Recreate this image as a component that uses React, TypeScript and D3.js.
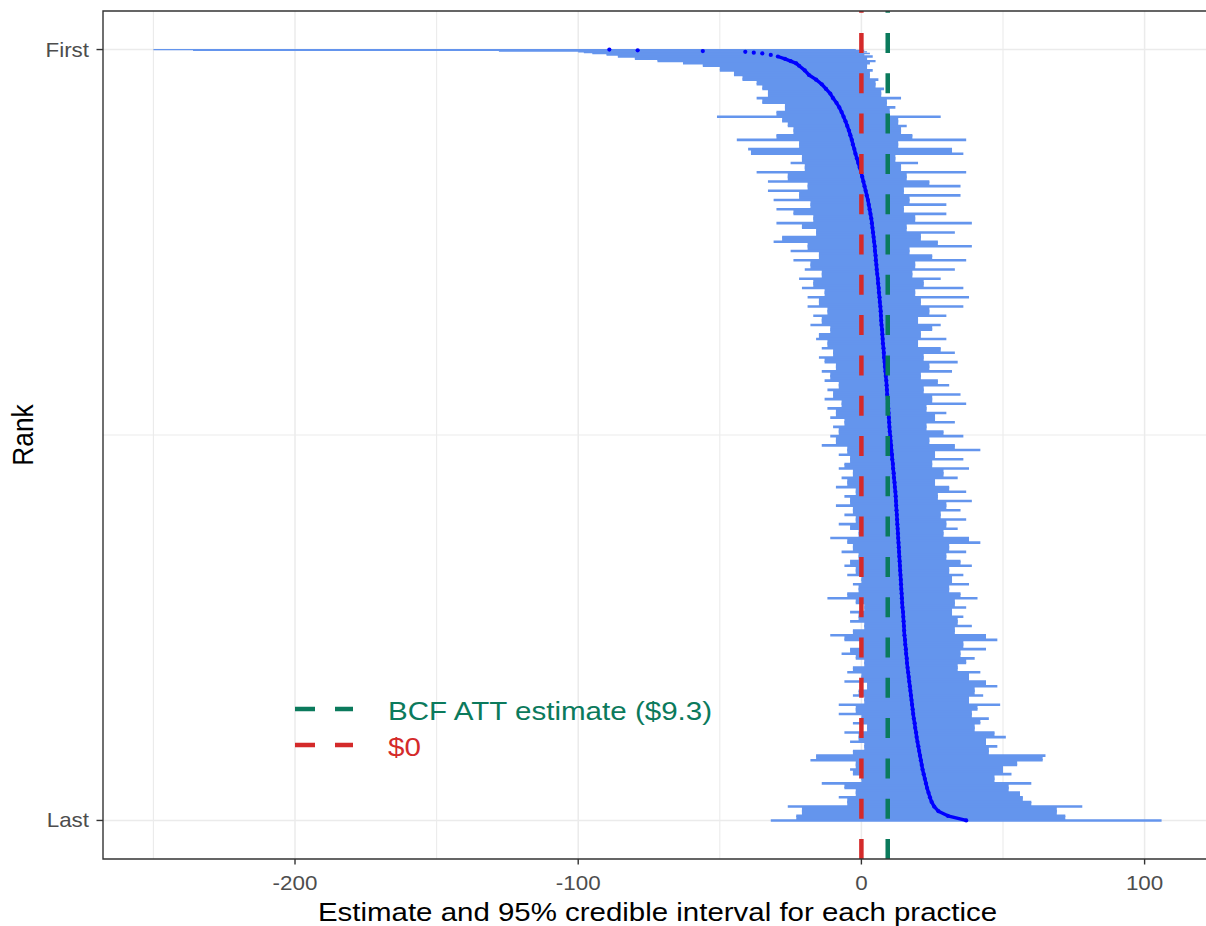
import React from "react";
import * as d3 from "d3";

// ---------------- data ----------------
const N_PRACTICES = 1000;

// the first practices in the ranking (read individually)
const topRanks = [1, 2, 3, 4, 5, 6, 8, 10, 13, 16, 19];
const topEstimate = [-89, -79, -56, -41, -38, -35, -32, -29.5, -27, -25, -23];
const topLower = [-250, -236, -128, -100, -98, -95, -90, -86, -80, -72, -63];
const topUpper = [-2, 1, -1, 2, 0, 3, 1, 4, 2, 5, 3];

// remaining practices, sampled every 6th rank from rank 22 to rank 1000
const SAMPLE_START = 22;
const SAMPLE_STEP = 6;
const sampledEstimate = [
  -22, -20, -18.5, -16, -14, -12.5, -11, -10, -8.8, -7.8,
  -7, -6.3, -5.6, -5, -4.4, -3.9, -3.4, -3, -2.5, -2.1,
  -1.6, -1.1, -0.6, -0.1, 0.3, 0.7, 1.1, 1.5, 1.9, 2.3,
  2.6, 2.9, 3.2, 3.5, 3.7, 3.9, 4.1, 4.3, 4.5, 4.7,
  4.8, 5.0, 5.1, 5.3, 5.4, 5.6, 5.8, 5.9, 6.1, 6.2,
  6.4, 6.5, 6.7, 6.8, 6.9, 7.0, 7.1, 7.3, 7.4, 7.5,
  7.6, 7.8, 7.9, 8.0, 8.2, 8.3, 8.5, 8.6, 8.8, 8.9,
  9.0, 9.1, 9.3, 9.4, 9.5, 9.6, 9.7, 9.8, 9.9, 10.0,
  10.2, 10.3, 10.5, 10.6, 10.8, 10.9, 11.1, 11.2, 11.4, 11.5,
  11.7, 11.8, 12.0, 12.1, 12.2, 12.3, 12.4, 12.5, 12.6, 12.7,
  12.8, 12.9, 13.0, 13.1, 13.2, 13.3, 13.4, 13.5, 13.6, 13.7,
  13.8, 13.9, 14.0, 14.1, 14.2, 14.3, 14.4, 14.5, 14.7, 14.8,
  14.9, 15.0, 15.1, 15.2, 15.4, 15.5, 15.7, 15.8, 16.0, 16.1,
  16.3, 16.5, 16.7, 16.9, 17.1, 17.3, 17.5, 17.7, 17.9, 18.1,
  18.3, 18.5, 18.8, 19.0, 19.3, 19.5, 19.8, 20.1, 20.4, 20.7,
  21.0, 21.3, 21.6, 22.0, 22.4, 22.8, 23.2, 23.7, 24.2, 24.8,
  25.7, 27.2, 30.5, 37,
];
const sampledLower = [
  -56, -50, -45, -42, -37, -35, -33, -37, -35, -27,
  -30, -51, -28, -26, -24, -30, -44, -22, -40, -39,
  -21, -25, -20, -37, -26, -33, -19, -33, -22, -31,
  -18, -30, -24, -17, -30, -21, -16, -28, -31, -19,
  -25, -15, -24, -18, -20, -14, -22, -17, -21, -13,
  -19, -15, -19, -12, -17, -14, -18, -11, -15, -16,
  -12, -14, -10, -15, -13, -9, -14, -11, -13, -8,
  -12, -10, -13, -7, -12, -9, -11, -6, -10, -8,
  -11, -9, -14, -5, -8, -4, -6, -8, -3, -7,
  -5, -9, -2, -6, -4, -9, -3, -6, -2, -8,
  -4, -1, -11, -5, -3, -7, -1, -4, -6, -2,
  -5, 0, -3, -1, -5, -12, -2, 1, -4, -1,
  -4, 1, -3, -11, -6, 0, -4, -7, -2, 1,
  -3, -5, 0, -6, 2, -1, -3, 1, -8, -2,
  -8, 0, -3, 2, -6, -1, -4, 1, -3, -16,
  -18, -2, -4, -3, 0, -14, -6, -2, -8, -5,
  -26, -21, -23, -32,
];
const sampledUpper = [
  2, 4, 3, 6, 5, 8, 7, 14, 9, 12,
  10, 28, 13, 16, 14, 18, 37, 13, 32, 36,
  12, 20, 14, 37, 16, 24, 35, 15, 35, 17,
  30, 15, 30, 19, 39, 16, 33, 21, 27, 39,
  17, 25, 37, 19, 33, 18, 28, 22, 36, 19,
  38, 21, 36, 24, 30, 20, 28, 25, 21, 30,
  20, 28, 33, 22, 34, 24, 32, 21, 27, 31,
  22, 35, 25, 37, 23, 30, 26, 33, 23, 29,
  36, 24, 33, 42, 26, 36, 25, 38, 29, 34,
  26, 31, 37, 27, 39, 30, 35, 28, 37, 30,
  34, 29, 38, 42, 31, 37, 30, 35, 39, 31,
  36, 32, 38, 31, 35, 41, 33, 37, 32, 36,
  34, 39, 33, 44, 48, 36, 44, 35, 40, 37,
  34, 42, 38, 44, 48, 40, 43, 38, 49, 41,
  39, 45, 42, 40, 47, 51, 44, 48, 45, 65,
  64, 55, 50, 53, 47, 60, 52, 56, 57, 60,
  78, 69, 72, 106,
];

const xMajorTicks = [-200, -100, 0, 100];
const xMinorTicks = [-250, -150, -50, 50];
const yTickLabels = ["First", "Last"];
const ATT_ESTIMATE = 9.3;
const ZERO_LINE = 0;
const legendLabels = ["BCF ATT estimate ($9.3)", "$0"];
const xTitle = "Estimate and 95% credible interval for each practice";
const yTitle = "Rank";

// ---------------- styling ----------------
const FONT = "'Liberation Sans', Arial, Helvetica, sans-serif";
const SX = 1.12; // the picture is slightly stretched horizontally
const BAND = "#6495ED";
const EST = "#0000FF";
const GREEN = "#0b7a5c";
const RED = "#d42a2a";
const GRID = "#ebebeb";
const DARK = "#333333";
const TICKTXT = "#4d4d4d";

type TProps = {
  x: number;
  y: number;
  size: number;
  anchor?: "start" | "middle" | "end";
  fill?: string;
  rotate?: number;
  children: React.ReactNode;
};
function T({ x, y, size, anchor = "start", fill = "#000", rotate, children }: TProps) {
  return (
    <text
      transform={`translate(${x},${y}) scale(${SX},1)${rotate ? ` rotate(${rotate})` : ""}`}
      fontSize={size}
      fontFamily={FONT}
      textAnchor={anchor}
      fill={fill}
    >
      {children}
    </text>
  );
}

export default function App() {
  const W = 1206;
  const H = 926;
  const panel = { left: 103, top: 11, right: 1212, bottom: 859 };

  const sampledRanks = sampledEstimate.map((_, i) => SAMPLE_START + SAMPLE_STEP * i);
  const ranks = [...topRanks, ...sampledRanks];
  const est = [...topEstimate, ...sampledEstimate];
  const lo = [...topLower, ...sampledLower];
  const hi = [...topUpper, ...sampledUpper];
  const rows = ranks.map((r, i) => ({ rank: r, est: est[i], lo: lo[i], hi: hi[i] }));

  const xMin = d3.min(lo) as number;
  const xMax = d3.max(hi) as number;
  const xr = xMax - xMin;
  const x = d3
    .scaleLinear()
    .domain([xMin - 0.05 * xr, xMax + 0.05 * xr])
    .range([panel.left, panel.right]);
  const yr = N_PRACTICES - 1;
  const y = d3
    .scaleLinear()
    .domain([1 - 0.05 * yr, N_PRACTICES + 0.05 * yr])
    .range([panel.top, panel.bottom]);

  const lineGen = d3
    .line<{ rank: number; est: number }>()
    .x((d) => x(d.est))
    .y((d) => y(d.rank));
  const linePath = lineGen(rows.filter((d) => d.rank >= 10)) || "";

  const yTickRanks = [1, N_PRACTICES];
  const yMinor = (1 + N_PRACTICES) / 2;

  const legendX = 295;
  const legendY = [709, 745];
  const legendColors = [GREEN, RED];

  const borderPath = `M${W + 2},${panel.top}H${panel.left}V${panel.bottom}H${W + 2}`;

  return (
    <svg
      width={W}
      height={H}
      style={{ position: "absolute", left: 0, top: 0, background: "#fff" }}
    >
      <defs>
        <clipPath id="panelClip">
          <rect x={panel.left} y={panel.top} width={panel.right - panel.left} height={panel.bottom - panel.top} />
        </clipPath>
      </defs>
      <rect x={0} y={0} width={W} height={H} fill="#fff" />

      {/* grid */}
      <g>
        {xMinorTicks.map((t) => (
          <line key={"xm" + t} x1={x(t)} x2={x(t)} y1={panel.top} y2={panel.bottom} stroke={GRID} strokeWidth={1.1} />
        ))}
        {xMajorTicks.map((t) => (
          <line key={"xM" + t} x1={x(t)} x2={x(t)} y1={panel.top} y2={panel.bottom} stroke={GRID} strokeWidth={1.5} />
        ))}
        <line x1={panel.left} x2={panel.right} y1={y(yMinor)} y2={y(yMinor)} stroke={GRID} strokeWidth={1.1} />
        {yTickRanks.map((r) => (
          <line key={"yM" + r} x1={panel.left} x2={panel.right} y1={y(r)} y2={y(r)} stroke={GRID} strokeWidth={1.5} />
        ))}
      </g>

      <g clipPath="url(#panelClip)">
        {/* dense overlap between neighbouring intervals */}
        {rows.slice(0, -1).map((d, i) => {
          const n = rows[i + 1];
          const a = Math.max(d.lo, n.lo);
          const b = Math.min(d.hi, n.hi);
          if (b <= a) return null;
          return (
            <rect
              key={"core" + i}
              x={x(a)}
              width={x(b) - x(a)}
              y={y(d.rank)}
              height={y(n.rank) - y(d.rank)}
              fill={BAND}
            />
          );
        })}
        {/* credible intervals */}
        {rows.map((d, i) => {
          const next = rows[i + 1];
          const gap = next ? y(next.rank) - y(d.rank) : 2.4;
          const h = Math.max(1.3, Math.min(2.6, gap));
          return (
            <line
              key={"ci" + i}
              x1={x(d.lo)}
              x2={x(d.hi)}
              y1={y(d.rank)}
              y2={y(d.rank)}
              stroke={BAND}
              strokeWidth={h}
            />
          );
        })}

        {/* estimates */}
        <path d={linePath} fill="none" stroke={EST} strokeWidth={3.4} strokeLinejoin="round" />
        {rows.map((d, i) => (
          <circle key={"pt" + i} cx={x(d.est)} cy={y(d.rank)} r={2.1} fill={EST} />
        ))}

        {/* reference lines */}
        <line
          x1={x(ZERO_LINE)}
          x2={x(ZERO_LINE)}
          y1={panel.bottom}
          y2={panel.top}
          stroke={RED}
          strokeWidth={4.5}
          strokeDasharray="20 20.3"
        />
        <line
          x1={x(ATT_ESTIMATE)}
          x2={x(ATT_ESTIMATE)}
          y1={panel.bottom}
          y2={panel.top}
          stroke={GREEN}
          strokeWidth={4.5}
          strokeDasharray="20 20.3"
        />
      </g>

      {/* panel border (right side lies outside the picture) */}
      <path d={borderPath} fill="none" stroke={DARK} strokeWidth={1.4} />

      {/* y axis */}
      {yTickRanks.map((r, i) => (
        <g key={"yt" + r}>
          <line x1={panel.left - 6.5} x2={panel.left} y1={y(r)} y2={y(r)} stroke={DARK} strokeWidth={1.4} />
          <T x={89} y={y(r) + 7} size={20} anchor="end" fill={TICKTXT}>
            {yTickLabels[i]}
          </T>
        </g>
      ))}
      <T x={33} y={(panel.top + panel.bottom) / 2} size={26.3} anchor="middle" rotate={-90}>
        {yTitle}
      </T>

      {/* x axis */}
      {xMajorTicks.map((t) => (
        <g key={"xt" + t}>
          <line x1={x(t)} x2={x(t)} y1={panel.bottom} y2={panel.bottom + 5.5} stroke={DARK} strokeWidth={1.4} />
          <T x={x(t)} y={890} size={20} anchor="middle" fill={TICKTXT}>
            {t}
          </T>
        </g>
      ))}
      <T x={(panel.left + panel.right) / 2} y={921} size={26.3} anchor="middle">
        {xTitle}
      </T>

      {/* legend */}
      {legendLabels.map((lab, i) => (
        <g key={"lg" + i}>
          <line
            x1={legendX}
            x2={legendX + 58}
            y1={legendY[i]}
            y2={legendY[i]}
            stroke={legendColors[i]}
            strokeWidth={4.5}
            strokeDasharray="20 20"
          />
          <T x={388} y={legendY[i] + 11} size={26.4} fill={legendColors[i]}>
            {lab}
          </T>
        </g>
      ))}
    </svg>
  );
}
